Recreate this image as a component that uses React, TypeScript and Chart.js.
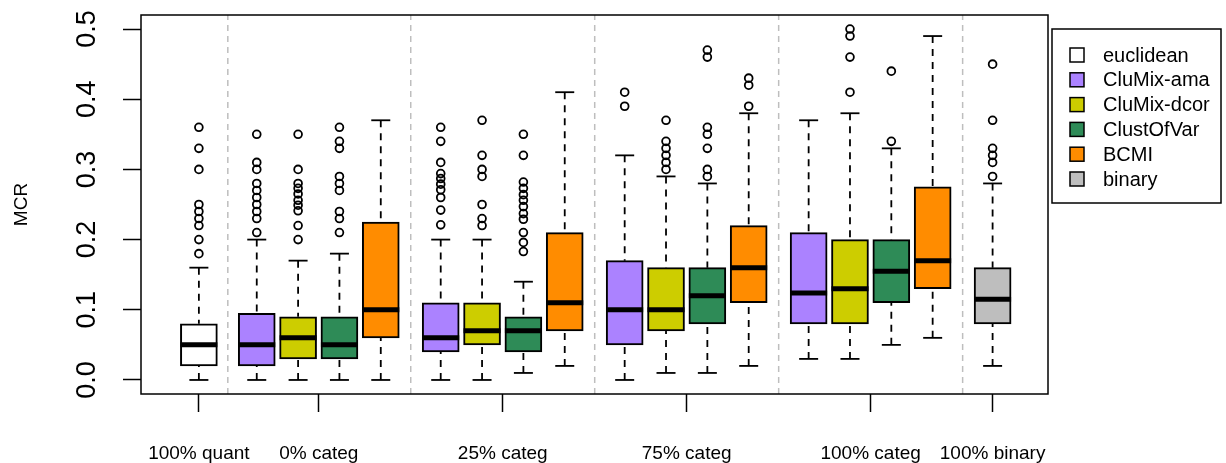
import React, { useEffect, useRef } from 'react';
import { Chart, registerables } from 'chart.js';

Chart.register(...registerables);

const FONT = '"Liberation Sans", Arial, Helvetica, sans-serif';

// ---- legend / methods ----
const methods = ['euclidean', 'CluMix-ama', 'CluMix-dcor', 'ClustOfVar', 'BCMI', 'binary'];
const methodColors = ['#FFFFFF', '#AB82FF', '#CDCD00', '#2E8B57', '#FF8C00', '#BEBEBE'];

// ---- x axis groups ----
const groupLabels = ['100% quant', '0% categ', '25% categ', '75% categ', '100% categ', '100% binary'];
const groupTickPositions = [1, 3.9, 8.35, 12.8, 17.25, 20.2];
const separatorPositions = [1.7, 6.125, 10.575, 15.025, 19.475];

// ---- y axis ----
const yTickValues = [0, 0.1, 0.2, 0.3, 0.4, 0.5];

// ---- boxes ----
const boxPositions = [1, 2.4, 3.4, 4.4, 5.4, 6.85, 7.85, 8.85, 9.85, 11.3, 12.3, 13.3, 14.3, 15.75, 16.75, 17.75, 18.75, 20.2];
const boxMethod = [0, 1, 2, 3, 4, 1, 2, 3, 4, 1, 2, 3, 4, 1, 2, 3, 4, 5];
const whiskerLow = [0, 0, 0, 0, 0, 0, 0, 0.01, 0.02, 0, 0.01, 0.01, 0.02, 0.03, 0.03, 0.05, 0.06, 0.02];
const q1 = [0.02, 0.02, 0.03, 0.03, 0.06, 0.04, 0.05, 0.04, 0.07, 0.05, 0.07, 0.08, 0.11, 0.08, 0.08, 0.11, 0.13, 0.08];
const median = [0.05, 0.05, 0.06, 0.05, 0.10, 0.06, 0.07, 0.07, 0.11, 0.10, 0.10, 0.12, 0.16, 0.124, 0.13, 0.155, 0.17, 0.115];
const q3 = [0.08, 0.095, 0.09, 0.09, 0.225, 0.11, 0.11, 0.09, 0.21, 0.17, 0.16, 0.16, 0.22, 0.21, 0.20, 0.20, 0.275, 0.16];
const whiskerHigh = [0.16, 0.20, 0.17, 0.18, 0.37, 0.20, 0.20, 0.14, 0.41, 0.32, 0.29, 0.28, 0.38, 0.37, 0.38, 0.33, 0.49, 0.28];
const outliers: number[][] = [
  [0.36, 0.33, 0.30, 0.25, 0.24, 0.23, 0.22, 0.20, 0.18],
  [0.35, 0.31, 0.30, 0.28, 0.27, 0.26, 0.25, 0.24, 0.23, 0.21],
  [0.35, 0.30, 0.28, 0.273, 0.265, 0.256, 0.249, 0.241, 0.22, 0.20],
  [0.36, 0.34, 0.33, 0.29, 0.28, 0.27, 0.24, 0.23, 0.21],
  [],
  [0.36, 0.34, 0.31, 0.294, 0.287, 0.279, 0.271, 0.26, 0.242, 0.221],
  [0.37, 0.32, 0.30, 0.29, 0.25, 0.23, 0.22],
  [0.35, 0.32, 0.282, 0.273, 0.264, 0.256, 0.247, 0.237, 0.229, 0.21, 0.196, 0.183],
  [],
  [0.41, 0.39],
  [0.37, 0.34, 0.33, 0.32, 0.31, 0.30],
  [0.47, 0.46, 0.36, 0.35, 0.33, 0.30, 0.29],
  [0.43, 0.42, 0.39],
  [],
  [0.50, 0.49, 0.46, 0.41],
  [0.44, 0.34],
  [],
  [0.45, 0.37, 0.33, 0.32, 0.31, 0.29],
];

const framePlugin = {
  id: 'frame',
  afterDraw(chart: any) {
    const { ctx, chartArea } = chart;
    ctx.save();
    ctx.strokeStyle = '#000';
    ctx.lineWidth = 1.5;
    ctx.strokeRect(chartArea.left, chartArea.top, chartArea.right - chartArea.left, chartArea.bottom - chartArea.top);
    ctx.restore();
  },
};

const yLabelPlugin = {
  id: 'yLabels',
  afterDraw(chart: any) {
    const { ctx, chartArea } = chart;
    const ys = chart.scales.y;
    ctx.save();
    ctx.fillStyle = '#000';
    ctx.font = `27px ${FONT}`;
    ctx.textAlign = 'center';
    ctx.textBaseline = 'middle';
    const x = chartArea.left - 53;
    yTickValues.forEach((v) => {
      const py = ys.getPixelForValue(v);
      ctx.save();
      ctx.translate(x, py);
      ctx.rotate(-Math.PI / 2);
      ctx.fillText(v.toFixed(1), 0, 0);
      ctx.restore();
    });
    ctx.restore();
  },
};

const legendPlugin = {
  id: 'boxLegend',
  afterDraw(chart: any) {
    const { ctx, chartArea } = chart;
    const left = chartArea.right + 4;
    const top = 29;
    const w = 169;
    const h = 174;
    ctx.save();
    ctx.strokeStyle = '#000';
    ctx.lineWidth = 1.5;
    ctx.strokeRect(left, top, w, h);
    ctx.font = `20px ${FONT}`;
    ctx.textAlign = 'left';
    ctx.textBaseline = 'middle';
    methods.forEach((m, i) => {
      const cy = top + 26 + i * 24.8;
      ctx.fillStyle = methodColors[i];
      ctx.fillRect(left + 18, cy - 7, 14, 14);
      ctx.lineWidth = 1.5;
      ctx.strokeStyle = '#000';
      ctx.strokeRect(left + 18, cy - 7, 14, 14);
      ctx.fillStyle = '#000';
      ctx.fillText(m, left + 51, cy + 1);
    });
    ctx.restore();
  },
};

export default function App() {
  const ref = useRef<HTMLCanvasElement>(null);

  useEffect(() => {
    const canvas = ref.current;
    if (!canvas) return;

    const boxDatasets = methods.map((m, mi) => ({
      type: 'bar',
      label: m,
      data: boxPositions
        .map((x, i) => ({ x, y: [q1[i], q3[i]], m: boxMethod[i] }))
        .filter((d) => d.m === mi)
        .map((d) => ({ x: d.x, y: d.y })),
      backgroundColor: methodColors[mi],
      borderColor: '#000',
      borderWidth: 2,
      borderSkipped: false,
      barThickness: 37,
      grouped: false,
      order: 2,
    }));

    const whiskerData: any[] = [];
    boxPositions.forEach((x, i) => {
      whiskerData.push(
        { x, y: whiskerHigh[i] }, { x, y: q3[i] }, { x, y: null },
        { x, y: whiskerLow[i] }, { x, y: q1[i] }, { x, y: null },
      );
    });

    const capData: any[] = [];
    boxPositions.forEach((x, i) => {
      capData.push({ x, y: whiskerLow[i] }, { x, y: whiskerHigh[i] });
    });

    const medianData = boxPositions.map((x, i) => ({ x, y: median[i] }));

    const outlierData: any[] = [];
    boxPositions.forEach((x, i) => {
      outliers[i].forEach((v) => outlierData.push({ x, y: v }));
    });

    const sepData: any[] = [];
    separatorPositions.forEach((x) => {
      sepData.push({ x, y: -0.02 }, { x, y: 0.52 }, { x, y: null });
    });

    const chart = new Chart(canvas, {
      type: 'bar',
      data: {
        datasets: [
          {
            type: 'scatter',
            label: 'median',
            data: medianData,
            pointStyle: 'line',
            pointRadius: 18.5,
            pointHoverRadius: 18.5,
            pointBorderWidth: 5,
            pointBorderColor: '#000',
            order: 0,
          },
          {
            type: 'scatter',
            label: 'caps',
            data: capData,
            pointStyle: 'line',
            pointRadius: 9.5,
            pointHoverRadius: 9.5,
            pointBorderWidth: 1.8,
            pointBorderColor: '#000',
            order: 1,
          },
          {
            type: 'scatter',
            label: 'outliers',
            data: outlierData,
            pointStyle: 'circle',
            pointRadius: 3.9,
            pointHoverRadius: 3.9,
            pointBorderWidth: 1.8,
            pointBorderColor: '#000',
            pointBackgroundColor: 'rgba(0,0,0,0)',
            order: 1,
          },
          ...boxDatasets,
          {
            type: 'line',
            label: 'whiskers',
            data: whiskerData,
            borderColor: '#000',
            borderWidth: 1.8,
            borderDash: [7, 6],
            pointRadius: 0,
            spanGaps: false,
            fill: false,
            tension: 0,
            order: 4,
          },
          {
            type: 'line',
            label: 'separators',
            data: sepData,
            borderColor: '#BEBEBE',
            borderWidth: 1.5,
            borderDash: [6, 5],
            pointRadius: 0,
            spanGaps: false,
            fill: false,
            tension: 0,
            order: 6,
          },
        ] as any,
      },
      options: {
        animation: false,
        responsive: false,
        devicePixelRatio: 1,
        events: [],
        layout: { autoPadding: false, padding: { left: 0, top: 15, right: 178, bottom: 0 } },
        plugins: {
          legend: { display: false },
          tooltip: { enabled: false },
        },
        scales: {
          x: {
            type: 'linear',
            min: -0.4,
            max: 21.54,
            offset: false,
            afterBuildTicks: (s: any) => {
              s.ticks = groupTickPositions.map((v) => ({ value: v }));
            },
            afterFit: (s: any) => {
              s.height = 69;
            },
            grid: {
              display: true,
              offset: false,
              drawOnChartArea: false,
              drawTicks: true,
              tickLength: 18,
              tickColor: '#000',
              tickWidth: 1.5,
            },
            border: { display: false },
            ticks: {
              autoSkip: false,
              maxRotation: 0,
              minRotation: 0,
              padding: 30,
              color: '#000',
              font: { family: FONT, size: 19 },
              callback: (_v: any, i: number) => groupLabels[i],
            },
          },
          y: {
            type: 'linear',
            min: -0.02,
            max: 0.52,
            afterBuildTicks: (s: any) => {
              s.ticks = yTickValues.map((v) => ({ value: v }));
            },
            afterFit: (s: any) => {
              s.width = 141;
            },
            grid: {
              display: true,
              drawOnChartArea: false,
              drawTicks: true,
              tickLength: 18,
              tickColor: '#000',
              tickWidth: 1.5,
            },
            border: { display: false },
            ticks: { display: false },
            title: {
              display: true,
              text: 'MCR',
              color: '#000',
              font: { family: FONT, size: 19 },
              padding: { top: 10, bottom: 0 },
            },
          },
        },
      } as any,
      plugins: [framePlugin, yLabelPlugin, legendPlugin],
    });

    return () => chart.destroy();
  }, []);

  return (
    <div style={{ position: 'fixed', left: 0, top: 0, width: 1226, height: 463, background: '#fff' }}>
      <canvas ref={ref} width={1226} height={463} style={{ display: 'block' }} />
    </div>
  );
}
